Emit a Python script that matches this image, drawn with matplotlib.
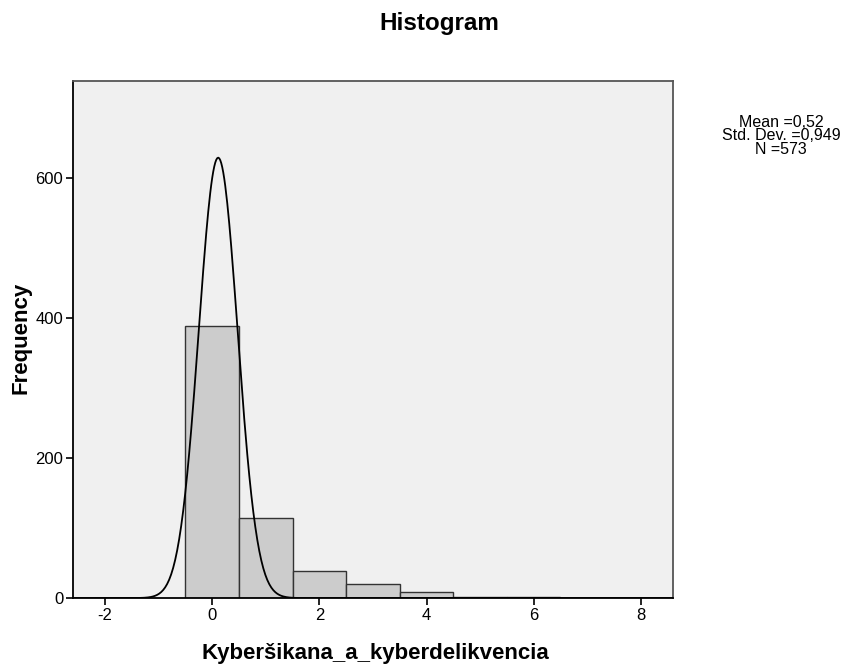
import numpy as np
import matplotlib.pyplot as plt

plt.rcParams['font.family'] = ['Liberation Sans', 'DejaVu Sans']
plt.rcParams['axes.unicode_minus'] = False

# bin centres (width 1) and counts
bin_centers = [0, 1, 2, 3, 4, 5, 6]
counts = [389, 115, 38, 20, 8, 1, 2]
bin_width = 1.0

# normal curve as drawn on the chart
curve_mean = 0.11
curve_sd = 0.363
n_total = 573

stats_lines = ["Mean =0,52", "Std. Dev. =0,949", "N =573"]

fig = plt.figure(figsize=(8.45, 6.66), dpi=100)
ax = fig.add_axes([0.0864, 0.102, 0.71, 0.776])
ax.set_facecolor('#f0f0f0')

ax.bar(bin_centers, counts, width=bin_width, color='#cccccc',
       edgecolor='#333333', linewidth=1.0, zorder=2)

xs = np.linspace(-2.6, 8.6, 600)
ys = n_total * bin_width / (curve_sd * np.sqrt(2 * np.pi)) * \
    np.exp(-0.5 * ((xs - curve_mean) / curve_sd) ** 2)
ax.plot(xs, ys, color='black', linewidth=1.3, zorder=3)

ax.set_xlim(-2.6, 8.6)
ax.set_ylim(0, 739)
ax.set_xticks([-2, 0, 2, 4, 6, 8])
ax.set_yticks([0, 200, 400, 600])
ax.tick_params(direction='out', length=5, width=1.2, labelsize=12, colors='black', pad=2)

for s in ['left', 'bottom']:
    ax.spines[s].set_color('black')
    ax.spines[s].set_linewidth(1.3)
for s in ['top', 'right']:
    ax.spines[s].set_color('#555555')
    ax.spines[s].set_linewidth(1.3)

fig.text(375 / 845, 1 - 653 / 666, 'Kyberšikana_a_kyberdelikvencia', ha='center', va='center',
         fontsize=16, fontweight='bold')
fig.text(21 / 845, 1 - 338 / 666, 'Frequency', ha='center', va='center', rotation=90,
         fontsize=16, fontweight='bold')

fig.text(439 / 845, 1 - 30 / 666, 'Histogram', ha='center', va='baseline',
         fontsize=17.5, fontweight='bold')
fig.text(781 / 845, 1 - 136 / 666, "\n".join(stats_lines), ha='center', va='center',
         fontsize=11.5, linespacing=0.85)

fig.savefig('out.png', dpi=100)
